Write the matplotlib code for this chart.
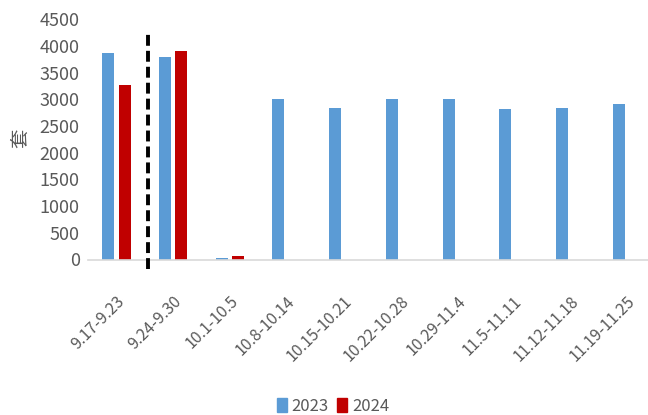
import matplotlib
matplotlib.use("Agg")
import matplotlib.pyplot as plt
import matplotlib.patches as mpatches
import numpy as np

# weekly transactions (套), 2023 vs 2024
weeks = ['9.17-9.23', '9.24-9.30', '10.1-10.5', '10.8-10.14', '10.15-10.21',
         '10.22-10.28', '10.29-11.4', '11.5-11.11', '11.12-11.18', '11.19-11.25']
sales_2023 = [3865, 3800, 35, 3005, 2840, 3005, 3000, 2815, 2835, 2915]
sales_2024 = [3270, 3915, 65, np.nan, np.nan, np.nan, np.nan, np.nan, np.nan, np.nan]

blue = '#5B9BD5'
red = '#C00000'
grey = '#595959'

plt.rcParams['font.family'] = ['Liberation Sans Narrow', 'Noto Sans CJK SC', 'DejaVu Sans']

fig = plt.figure(figsize=(6.48, 4.15), dpi=100)
ax = fig.add_axes([88 / 648, 155.5 / 415, (648 - 88) / 648, 240.2 / 415])

x = np.arange(len(weeks))
w = 0.21
has_2024 = ~np.isnan(sales_2024)
# weeks without 2024 data put the 2023 bar at the left slot anyway
ax.bar(x - 0.145, sales_2023, width=w, color=blue)
ax.bar(x[has_2024] + 0.145, np.array(sales_2024)[has_2024], width=w, color=red)

# divider between the two first weeks
ax.plot([0.56, 0.56], [-180, 4300], color='black', lw=2.8, ls=(0, (2.8, 1.3)),
        clip_on=False, zorder=5)

ax.set_xlim(-0.5, 9.37)
ax.set_ylim(0, 4500)
ax.set_yticks(np.arange(0, 4501, 500))
ax.tick_params(axis='y', length=0, labelsize=13, labelcolor=grey, pad=6)
ax.tick_params(axis='x', length=0, labelsize=11.5, labelcolor=grey, pad=24)
ax.set_xticks(x)
ax.set_xticklabels(weeks, rotation=45, ha='right', rotation_mode='anchor')
for s in ['top', 'right', 'left']:
    ax.spines[s].set_visible(False)
ax.spines['bottom'].set_color('#D9D9D9')
ax.spines['bottom'].set_linewidth(1.2)

fig.text(21 / 648, 1 - 138 / 415, '套', rotation=90, fontsize=14, color=grey,
         ha='center', va='center', family=['Noto Sans CJK SC', 'DejaVu Sans'])

handles = [mpatches.Patch(color=blue, label='2023'),
           mpatches.Patch(color=red, label='2024')]
fig.legend(handles=handles, loc='center', bbox_to_anchor=(333 / 648, 1 - 406 / 415),
           ncol=2, frameon=False, fontsize=12, handlelength=0.6, handleheight=0.9,
           handletextpad=0.3, columnspacing=0.5, labelcolor=grey)

fig.savefig('out.png', dpi=100)
